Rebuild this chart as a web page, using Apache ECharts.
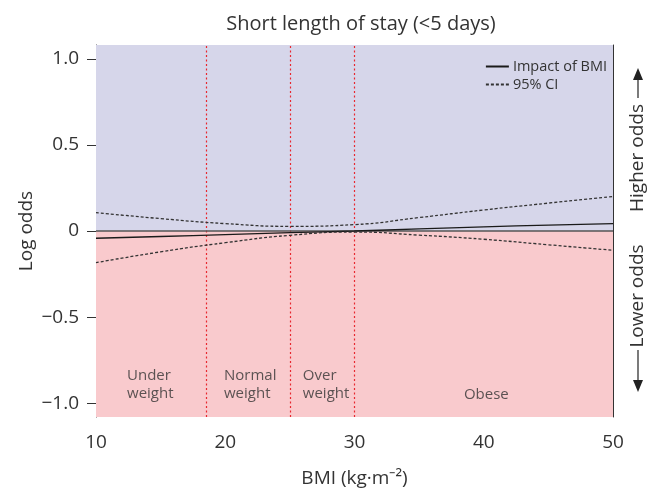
<!DOCTYPE html>
<html><head><meta charset="utf-8">
<script src="https://cdn.jsdelivr.net/npm/echarts@6/dist/echarts.min.js"></script>
<style>html,body{margin:0;padding:0;background:#fff}#c{width:654px;height:489px}</style>
</head><body><div id="c"></div>
<script>
// Data
const bmi = [10, 15, 20, 25, 30, 35, 40, 45, 50];
const impact = [-0.042, -0.032, -0.021, -0.010, 0.000, 0.012, 0.024, 0.034, 0.043];
const ciUpper = [0.107, 0.072, 0.043, 0.027, 0.037, 0.078, 0.122, 0.162, 0.200];
const ciLower = [-0.184, -0.121, -0.068, -0.025, -0.006, -0.024, -0.048, -0.080, -0.112];
const cutoffs = [18.5, 25, 30];
const yTicks = [-1.0, -0.5, 0, 0.5, 1.0];
const xTicks = [10, 20, 30, 40, 50];
const groupNames = ['Under\nweight', 'Normal\nweight', 'Over\nweight', 'Obese'];
const groupAt = [[12.4, -0.895], [19.9, -0.895], [26.0, -0.895], [40.2, -0.948]];

const FONT = '"Open Sans"';
const TXT = '#333';
const pair = (xs, ys) => xs.map((x, i) => [x, ys[i]]);

const chart = echarts.init(document.getElementById('c'), null, {renderer: 'canvas'});
chart.setOption({
  animation: false,
  textStyle: {fontFamily: FONT},
  title: {
    text: 'Short length of stay (<5 days)',
    left: 356, top: 9, textAlign: 'center',
    textStyle: {fontFamily: FONT, fontSize: 20, fontWeight: 'normal', color: TXT}
  },
  legend: {
    orient: 'vertical', right: 42, top: 54, itemGap: 3,
    itemWidth: 23, itemHeight: 13,
    data: ['Impact of BMI', '95% CI'],
    itemStyle: {opacity: 0},
    textStyle: {fontFamily: FONT, fontSize: 14.5, color: TXT, padding: [0, 0, 0, -1]}
  },
  grid: {left: 96, right: 41, top: 45, bottom: 72, containLabel: false, outerBoundsMode: 'none'},
  xAxis: [{
    type: 'value', min: 10, max: 50, interval: 10,
    name: 'BMI (kg·m\u207B\u00B2)', nameLocation: 'middle', nameGap: 52,
    nameTextStyle: {fontFamily: FONT, fontSize: 19, color: TXT},
    axisLine: {lineStyle: {color: '#333', width: 1}},
    axisTick: {length: 7, lineStyle: {color: '#333'}},
    axisLabel: {fontFamily: FONT, fontSize: 19, color: TXT, margin: 16},
    splitLine: {show: false}
  }, {
    type: 'value', position: 'top', min: 10, max: 50,
    axisLine: {show: true, lineStyle: {color: '#333', width: 1}},
    axisTick: {show: false}, axisLabel: {show: false}, splitLine: {show: false}
  }],
  yAxis: [{
    type: 'value', min: -1.08, max: 1.08,
    name: 'Log odds', nameLocation: 'middle', nameGap: 60, nameRotate: 90,
    nameMoveOverlap: false,
    nameTextStyle: {fontFamily: FONT, fontSize: 19, color: TXT},
    axisLine: {show: true, lineStyle: {color: '#333', width: 1}},
    axisTick: {show: true, length: 9, customValues: yTicks, lineStyle: {color: '#333'}},
    axisLabel: {fontFamily: FONT, fontSize: 19, color: TXT, margin: 17, customValues: yTicks,
      formatter: v => v === 0 ? '0' : (v < 0 ? '\u2212' : '') + Math.abs(v).toFixed(1)},
    splitLine: {show: false}
  }, {
    type: 'value', position: 'right', min: -1.08, max: 1.08,
    axisLine: {show: true, lineStyle: {color: '#333', width: 1}},
    axisTick: {show: false}, axisLabel: {show: false}, splitLine: {show: false}
  }],
  series: [
    {
      name: 'bg', type: 'line', data: [], silent: true, z: 1,
      markArea: {
        silent: true,
        data: [
          [{yAxis: 0, itemStyle: {color: '#d6d6ea'}}, {yAxis: 1.08}],
          [{yAxis: -1.08, itemStyle: {color: '#f9cacd'}}, {yAxis: 0}]
        ]
      },
      markLine: {
        silent: true, symbol: 'none', label: {show: false},
        data: [
          ...cutoffs.map(c => ({xAxis: c, lineStyle: {color: '#e8272f', type: [2, 2.5], width: 1.2}})),
          {yAxis: 0, lineStyle: {color: '#555', type: 'solid', width: 1.5}}
        ]
      }
    },
    {
      name: 'Impact of BMI', type: 'line', data: pair(bmi, impact), smooth: true,
      symbol: 'none', z: 5,
      lineStyle: {color: '#1a1a1a', width: 1.3}, itemStyle: {color: '#1a1a1a'}
    },
    {
      name: '95% CI', type: 'line', data: pair(bmi, ciUpper), smooth: true,
      symbol: 'none', z: 5,
      lineStyle: {color: '#333', width: 1.3, type: [3, 2]}, itemStyle: {color: '#333'}
    },
    {
      name: '95% CI', type: 'line', data: pair(bmi, ciLower), smooth: true,
      symbol: 'none', z: 5,
      lineStyle: {color: '#333', width: 1.3, type: [3, 2]}, itemStyle: {color: '#333'}
    },
    {
      name: 'groups', type: 'scatter', symbolSize: 0, silent: true, z: 6,
      data: groupAt.map((p, i) => ({value: p, name: groupNames[i],
        label: {align: i === 3 ? 'center' : 'left', position: i === 3 ? 'inside' : 'right', distance: 0}})),
      label: {show: true, formatter: p => p.name, fontFamily: FONT, fontSize: 15,
        lineHeight: 18, color: TXT}
    }
  ],
  graphic: [
    {type: 'text', x: 638, y: 158, rotation: Math.PI / 2,
      style: {text: 'Higher odds', fill: TXT, font: '19px ' + FONT, align: 'center', verticalAlign: 'middle'}},
    {type: 'text', x: 638, y: 296, rotation: Math.PI / 2,
      style: {text: 'Lower odds', fill: TXT, font: '19px ' + FONT, align: 'center', verticalAlign: 'middle'}},
    {type: 'line', shape: {x1: 638, y1: 98, x2: 638, y2: 78}, style: {stroke: '#222', lineWidth: 1.2}},
    {type: 'polygon', shape: {points: [[633, 80], [643, 80], [638, 68]]}, style: {fill: '#222'}},
    {type: 'line', shape: {x1: 638, y1: 350, x2: 638, y2: 382}, style: {stroke: '#222', lineWidth: 1.2}},
    {type: 'polygon', shape: {points: [[633, 380], [643, 380], [638, 392]]}, style: {fill: '#222'}}
  ]
});
</script>
</body></html>
